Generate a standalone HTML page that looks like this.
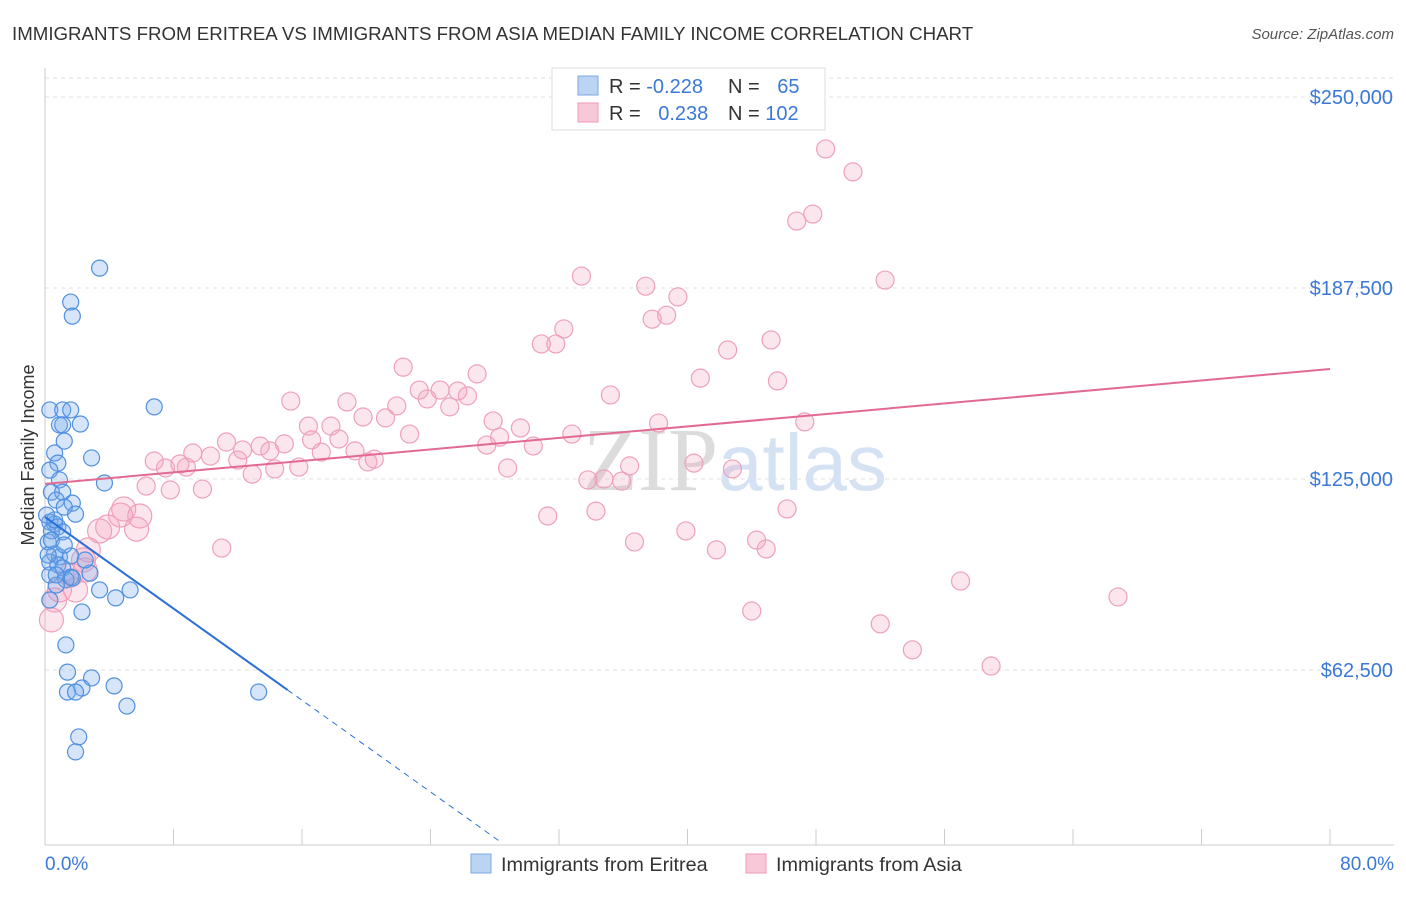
<!DOCTYPE html>
<html><head><meta charset="utf-8">
<style>
body{margin:0;background:#fff;font-family:"Liberation Sans",sans-serif;}
svg text{font-family:"Liberation Sans",sans-serif;}
</style></head>
<body>
<svg id="chart" width="1406" height="892" xmlns="http://www.w3.org/2000/svg">
<text x="12" y="40" font-size="18.7" fill="#333">IMMIGRANTS FROM ERITREA VS IMMIGRANTS FROM ASIA MEDIAN FAMILY INCOME CORRELATION CHART</text>
<text x="1394" y="39" font-size="15" fill="#555" text-anchor="end" font-style="italic">Source: ZipAtlas.com</text>
<text x="34" y="455" font-size="18" fill="#333" text-anchor="middle" transform="rotate(-90 34 455)">Median Family Income</text>
<g id="grid"></g>
<text x="718" y="490" font-size="90" fill="#dcdcdc" text-anchor="end" style="font-family:'Liberation Serif',serif">ZIP</text>
<text x="718" y="490" font-size="80" fill="#d4e2f4">atlas</text>
<g id="axes"></g>
<g id="pts"></g>
<g id="trends"></g>
<g>
<rect x="552" y="68" width="273" height="62" fill="#fff" stroke="#ddd"/>
<rect x="578" y="76" width="20" height="19" fill="#bcd4f4" stroke="#7aa8e6"/>
<rect x="578" y="103" width="20" height="19" fill="#f9c8d8" stroke="#ee9ab8"/>
<text x="609" y="93" font-size="20" fill="#333">R = <tspan fill="#3b78d8">-0.228</tspan></text>
<text x="728" y="93" font-size="20" fill="#333">N = <tspan fill="#3b78d8" dx="12">65</tspan></text>
<text x="609" y="120" font-size="20" fill="#333">R = <tspan fill="#3b78d8" dx="12">0.238</tspan></text>
<text x="728" y="120" font-size="20" fill="#333">N = <tspan fill="#3b78d8">102</tspan></text>
</g>
<g>
<rect x="471" y="854" width="20" height="19" fill="#bcd4f4" stroke="#7aa8e6"/>
<text x="501" y="871" font-size="19.8" fill="#333">Immigrants from Eritrea</text>
<rect x="746" y="854" width="20" height="19" fill="#f9c8d8" stroke="#ee9ab8"/>
<text x="776" y="871" font-size="19.8" fill="#333">Immigrants from Asia</text>
</g>
</svg>
<script>
const yTicks=[62.5,125,187.5,250];
const yTickLabels=["$62,500","$125,000","$187,500","$250,000"];
const xTickLabels=["0.0%","80.0%"];
const blueX=[0.3,1.1,1.6,0.9,1.1,2.2,1.2,2.9,0.6,0.8,0.3,0.9,3.7,0.4,1.1,0.7,1.7,1.2,1.9,0.3,0.6,0.8,0.4,1.1,0.2,0.6,0.9,1.6,0.3,0.8,1.1,2.8,0.3,1.6,1.3,0.7,3.4,5.3,4.4,2.3,1.3,1.4,2.9,2.3,1.4,1.9,4.3,5.1,2.1,1.9,3.4,1.6,1.7,6.8,13.3,0.4,0.2,0.6,1.2,2.5,0.1,0.7,1.7,0.3];
const blueY=[147.6,147.6,147.6,142.7,142.7,143.0,137.4,131.9,133.5,130.2,127.9,124.7,123.7,120.7,120.7,118.1,117.1,115.8,113.5,110.9,110.3,109.3,108.0,107.7,104.4,100.5,99.5,99.8,97.8,96.9,95.9,94.2,93.6,92.9,92.0,90.3,88.7,88.7,86.1,81.5,70.7,61.8,59.9,56.6,55.3,55.3,57.3,50.7,40.6,35.7,194.0,182.9,178.3,148.6,55.3,105.0,100.1,111.6,103.4,98.5,113.2,93.6,92.6,85.4];
const pinkX=[48.6,50.3,47.8,46.8,52.3,33.4,37.4,39.4,37.8,38.7,32.3,30.9,31.8,42.5,45.2,22.3,26.9,40.8,45.6,35.2,23.3,24.6,25.7,26.3,23.8,15.3,18.8,21.9,25.2,19.8,21.2,27.9,29.6,16.4,17.8,38.2,47.3,22.7,32.8,28.3,16.6,18.3,11.3,9.2,10.3,12.3,13.4,14.9,14.0,19.3,30.4,27.5,17.2,20.5,20.1,6.8,7.5,8.4,8.8,12.0,14.3,15.8,12.9,40.4,36.4,28.8,33.8,34.8,35.9,42.8,6.3,7.8,9.8,31.3,34.3,46.2,4.9,4.7,5.9,5.7,3.4,3.9,2.7,2.4,2.5,1.6,0.9,0.4,11.0,39.9,36.7,41.8,44.3,44.9,57.0,66.8,44.0,52.0,54.0,58.9,0.6,1.9];
const pinkY=[233.0,225.5,211.7,209.4,190.1,191.4,188.1,184.6,177.3,178.6,174.1,169.2,169.2,167.2,170.5,161.6,159.4,158.0,157.1,152.5,154.1,154.1,153.8,152.2,151.2,150.5,150.2,148.9,148.6,145.3,145.0,144.0,141.7,142.3,142.3,143.3,143.7,139.7,139.7,138.7,137.8,138.1,137.1,133.5,132.5,134.5,135.8,136.5,134.2,134.2,135.8,136.1,133.8,131.5,130.6,130.9,128.6,129.9,128.9,131.2,128.3,128.9,126.6,130.2,129.3,128.6,124.7,125.0,124.3,128.3,122.7,121.4,121.7,112.9,114.5,115.2,115.2,113.2,112.9,108.6,108.0,109.3,101.8,98.5,95.2,93.6,88.7,78.9,102.4,108.0,104.4,101.8,105.0,102.1,91.6,86.4,81.8,77.6,69.1,63.8,85.4,88.7];
const blueTrend=[112.6,-3.75];
const pinkTrend=[123.4,0.47];

const NS="http://www.w3.org/2000/svg";
const X=v=>45+v/80*1285;
const Y=v=>479-(v-125)/62.5*191;
function mk(tag,attrs,parent){const e=document.createElementNS(NS,tag);for(const k in attrs)e.setAttribute(k,attrs[k]);parent.appendChild(e);return e;}
const gridG=document.getElementById('grid'),axesG=document.getElementById('axes'),ptsG=document.getElementById('pts'),trG=document.getElementById('trends');
yTicks.forEach((t,i)=>{
  const l=mk('line',{x1:45,x2:1394,y1:Y(t),y2:Y(t),stroke:'#e2e2e2','stroke-dasharray':'4,4'},gridG);
  
  
  const tx=mk('text',{x:1393,y:Y(t)+7,'font-size':20,fill:'#3b78d8','text-anchor':'end'},axesG);
  tx.textContent=yTickLabels[i];
  
  
});
const topLine=mk('line',{x1:45,x2:1394,y1:78,y2:78,stroke:'#e2e2e2','stroke-dasharray':'4,4'},gridG);


const ya=mk('line',{x1:45,x2:45,y1:68,y2:845,stroke:'#ccc'},axesG);


const xa=mk('line',{x1:45,x2:1394,y1:845,y2:845,stroke:'#ccc'},axesG);


for(let i=1;i<=10;i++){const t=mk('line',{x1:X(i*8),x2:X(i*8),y1:829,y2:845,stroke:'#ccc'},axesG);

}
[[0,'start',45],[80,'end',1394]].forEach((d,i)=>{const t=mk('text',{x:d[2],y:870,'font-size':19,fill:'#3b78d8','text-anchor':d[1]},axesG);t.textContent=xTickLabels[i];

});
pinkX.forEach((x,i)=>{const c=mk('circle',{cx:X(x),cy:Y(pinkY[i]),r:x<6?12:9,fill:'rgba(244,160,190,0.26)',stroke:'#eea0bc','stroke-width':1.2},ptsG);

});
blueX.forEach((x,i)=>{const c=mk('circle',{cx:X(x),cy:Y(blueY[i]),r:8,fill:'rgba(120,168,235,0.3)',stroke:'#5090e0','stroke-width':1.2},ptsG);

});
const bEnd=15.1, bDash=28.3;
const b1=mk('line',{x1:X(0),y1:Y(blueTrend[0]),x2:X(bEnd),y2:Y(blueTrend[0]+blueTrend[1]*bEnd),stroke:'#2a6fd8','stroke-width':2},trG);


const b2=mk('line',{x1:X(bEnd),y1:Y(blueTrend[0]+blueTrend[1]*bEnd),x2:X(bDash),y2:Y(blueTrend[0]+blueTrend[1]*bDash),stroke:'#2a6fd8','stroke-width':1,'stroke-dasharray':'6,5'},trG);


const p1=mk('line',{x1:X(0),y1:Y(pinkTrend[0]),x2:X(80),y2:Y(pinkTrend[0]+pinkTrend[1]*80),stroke:'#e26a92','stroke-width':2},trG);


</script>
</body></html>
